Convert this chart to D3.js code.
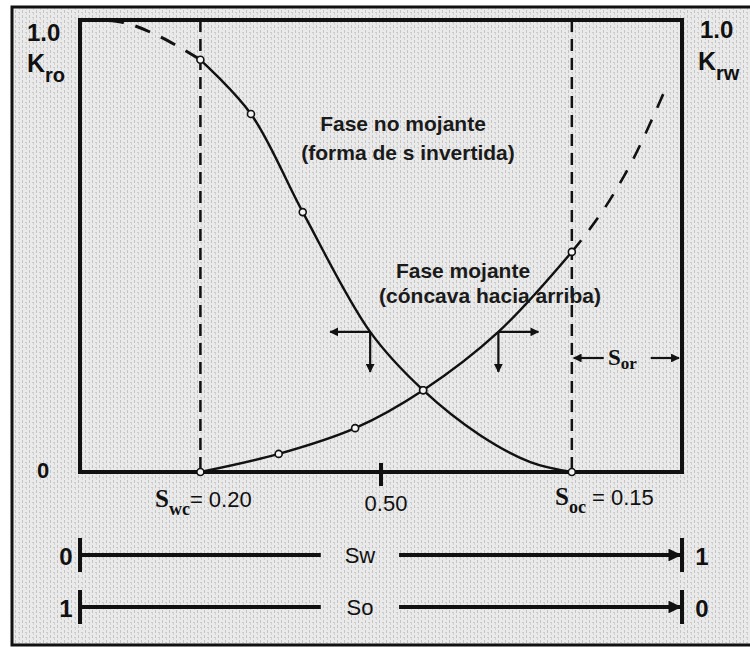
<!DOCTYPE html>
<html>
<head>
<meta charset="utf-8">
<script src="https://cdn.jsdelivr.net/npm/d3@7"></script>
<style>
  body { margin: 0; background: #fff; }
  svg { display: block; }
</style>
</head>
<body>
<div id="board"></div>
<script>
// Kro (non-wetting) and Krw (wetting) curves: [Sw, Kr]
const kroDashed = [[0, 1], [0.07, 0.995], [0.13, 0.965], [0.2, 0.912]];
const kroSolid = [[0.2, 0.912], [0.284, 0.792], [0.37, 0.575], [0.482, 0.31],
                  [0.57, 0.181], [0.664, 0.082], [0.748, 0.022], [0.817, 0]];
const krwSolid = [[0.2, 0], [0.33, 0.04], [0.457, 0.097], [0.57, 0.181],
                  [0.695, 0.31], [0.817, 0.487]];
const krwDashed = [[0.817, 0.487], [0.842, 0.529], [0.875, 0.591], [0.92, 0.695], [0.975, 0.855]];
const kroMarks = [[0.2, 0.912], [0.284, 0.792], [0.37, 0.575], [0.57, 0.181], [0.817, 0]];
const krwMarks = [[0.2, 0], [0.33, 0.04], [0.457, 0.097], [0.57, 0.181], [0.817, 0.487]];
const saturationLines = [0.2, 0.817];   // Swc and 1 - Soc
const midTick = [0.5];
const arrowPoints = [[0.482, 0.31, -1], [0.695, 0.31, 1]];  // Sw, Kr, direction

const width = 750, height = 647;
const x = d3.scaleLinear().domain([0, 1]).range([80, 682]);
const y = d3.scaleLinear().domain([0, 1]).range([472, 20]);

const svg = d3.create("svg").attr("width", width).attr("height", height);

// scanned paper look
const defs = svg.append("defs");
const pat = defs.append("pattern").attr("id", "paper")
  .attr("width", 7).attr("height", 5).attr("patternUnits", "userSpaceOnUse");
pat.append("rect").attr("width", 7).attr("height", 5).attr("fill", "#eaeaea");
pat.append("rect").attr("x", 1).attr("y", 0).attr("width", 1).attr("height", 3).attr("fill", "#c4c4c4");
pat.append("rect").attr("x", 4).attr("y", 2).attr("width", 2).attr("height", 1).attr("fill", "#cbcbcb");
pat.append("rect").attr("x", 5).attr("y", 3).attr("width", 1).attr("height", 2).attr("fill", "#d2d2d2");

["ar", "ar-small"].forEach((id, i) => {
  defs.append("marker").attr("id", id)
    .attr("viewBox", "0 0 10 10").attr("refX", 9).attr("refY", 5)
    .attr("markerWidth", i ? 4 : 3.2).attr("markerHeight", i ? 4 : 3.2)
    .attr("markerUnits", "strokeWidth").attr("orient", "auto")
    .append("path").attr("d", "M0,0L10,5L0,10z").attr("fill", "#111");
});

svg.append("rect").attr("x", 12).attr("y", 7).attr("width", 740).attr("height", 638)
  .attr("fill", "url(#paper)").attr("stroke", "#111").attr("stroke-width", 3);

// plot box
svg.append("rect").attr("x", x(0)).attr("y", y(1))
  .attr("width", x(1) - x(0)).attr("height", y(0) - y(1))
  .attr("fill", "none").attr("stroke", "#111").attr("stroke-width", 4);

// dashed verticals at Swc and 1-Soc
svg.selectAll(".vline").data(saturationLines).join("line")
  .attr("x1", d => x(d)).attr("x2", d => x(d))
  .attr("y1", y(1)).attr("y2", y(0))
  .attr("stroke", "#111").attr("stroke-width", 2.5).attr("stroke-dasharray", "12,7");

// 0.50 tick
svg.selectAll(".tick").data(midTick).join("line")
  .attr("x1", d => x(d)).attr("x2", d => x(d))
  .attr("y1", y(0) - 9).attr("y2", y(0) + 14)
  .attr("stroke", "#111").attr("stroke-width", 4);

const line = d3.line().x(d => x(d[0])).y(d => y(d[1])).curve(d3.curveCatmullRom);

svg.append("path").attr("d", line(kroDashed)).attr("fill", "none")
  .attr("stroke", "#111").attr("stroke-width", 3).attr("stroke-dasharray", "16,12");
svg.append("path").attr("d", line(krwDashed)).attr("fill", "none")
  .attr("stroke", "#111").attr("stroke-width", 2.6).attr("stroke-dasharray", "15,13");
svg.append("path").attr("d", line(kroSolid)).attr("fill", "none")
  .attr("stroke", "#111").attr("stroke-width", 2.4);
svg.append("path").attr("d", line(krwSolid)).attr("fill", "none")
  .attr("stroke", "#111").attr("stroke-width", 2.4);

svg.selectAll(".mk").data(kroMarks.concat(krwMarks)).join("circle")
  .attr("cx", d => x(d[0])).attr("cy", d => y(d[1])).attr("r", 3.5)
  .attr("fill", "#f4f4f4").attr("stroke", "#111").attr("stroke-width", 1.6);

// direction arrows on the curves
arrowPoints.forEach(([sw, kr, dir]) => {
  const cx = x(sw), cy = y(kr);
  svg.append("line").attr("x1", cx).attr("y1", cy).attr("x2", cx + dir * 40).attr("y2", cy)
    .attr("stroke", "#111").attr("stroke-width", 2.2).attr("marker-end", "url(#ar-small)");
  svg.append("line").attr("x1", cx).attr("y1", cy).attr("x2", cx).attr("y2", cy + 40)
    .attr("stroke", "#111").attr("stroke-width", 2.2).attr("marker-end", "url(#ar-small)");
});

// Sor bracket
const sorY = 358;
svg.append("line").attr("x1", x(0.87)).attr("y1", sorY).attr("x2", x(0.82)).attr("y2", sorY)
  .attr("stroke", "#111").attr("stroke-width", 2.2).attr("marker-end", "url(#ar-small)");
svg.append("line").attr("x1", x(0.948)).attr("y1", sorY).attr("x2", x(0.995)).attr("y2", sorY)
  .attr("stroke", "#111").attr("stroke-width", 2.2).attr("marker-end", "url(#ar-small)");
const sor = svg.append("text").attr("x", x(0.877)).attr("y", sorY + 7)
  .attr("font-family", "Liberation Serif").attr("font-weight", "bold").attr("font-size", 23).attr("fill", "#111");
sor.append("tspan").text("S");
sor.append("tspan").attr("dy", 4).attr("font-size", 17).text("or");

const sans = "Liberation Sans";
function txt(xp, yp, s, size, opts = {}) {
  return svg.append("text").attr("x", xp).attr("y", yp)
    .attr("font-family", opts.family || sans).attr("font-size", size)
    .attr("font-weight", opts.weight || "normal")
    .attr("text-anchor", opts.anchor || "start").attr("fill", opts.fill || "#111").text(s);
}

// axis labels
txt(27, 41, "1.0", 24, {weight: "bold"});
const kro = txt(27, 72, "K", 25, {weight: "bold"});
kro.append("tspan").attr("dy", 10).attr("font-size", 20).text("ro");
txt(700, 38, "1.0", 24, {weight: "bold"});
const krw = txt(698, 70, "K", 25, {weight: "bold"});
krw.append("tspan").attr("dy", 10).attr("font-size", 20).text("rw");
txt(37, 478, "0", 22, {weight: "bold"});

// curve annotations
const note = {anchor: "middle", weight: "bold", fill: "#1a1a1a"};
txt(403, 131, "Fase no mojante", 21, note);
txt(408, 160, "(forma de s invertida)", 21, note);
txt(463, 278, "Fase mojante", 21, note);
txt(490, 303, "(cóncava hacia arriba)", 21, note);

// saturation labels under the box
const swc = txt(155, 507, "S", 25, {family: "Liberation Serif", weight: "bold"});
swc.append("tspan").attr("dy", 8).attr("font-size", 18).text("wc");
swc.append("tspan").attr("dy", -8).attr("font-family", sans).attr("font-weight", "normal")
  .attr("font-size", 22).text("= 0.20");
svg.selectAll(".ticklab").data(midTick).join("text")
  .attr("x", d => x(d) + 5).attr("y", 511).attr("text-anchor", "middle")
  .attr("font-family", "Liberation Sans Narrow, " + sans).attr("font-size", 22)
  .attr("fill", "#111").text(d => d.toFixed(2));
const soc = txt(555, 505, "S", 25, {family: "Liberation Serif", weight: "bold"});
soc.append("tspan").attr("dy", 8).attr("font-size", 18).text("oc");
soc.append("tspan").attr("dy", -8).attr("font-family", sans).attr("font-weight", "normal")
  .attr("font-size", 22).text(" = 0.15");

// Sw and So scales
const rows = [{name: "Sw", y: 555, ends: ["0", "1"]}, {name: "So", y: 607, ends: ["1", "0"]}];
rows.forEach(r => {
  [0, 1].forEach(v => svg.append("line").attr("x1", x(v)).attr("x2", x(v))
    .attr("y1", r.y - 17).attr("y2", r.y + 17).attr("stroke", "#111").attr("stroke-width", 4));
  svg.append("line").attr("x1", x(0)).attr("x2", x(0.4)).attr("y1", r.y).attr("y2", r.y)
    .attr("stroke", "#111").attr("stroke-width", 4);
  svg.append("line").attr("x1", x(0.53)).attr("x2", x(1) - 2).attr("y1", r.y).attr("y2", r.y)
    .attr("stroke", "#111").attr("stroke-width", 4).attr("marker-end", "url(#ar)");
  txt(x(0.465), r.y + 8, r.name, 22, {anchor: "middle"});
  txt(x(0) - 14, r.y + 10, r.ends[0], 24, {anchor: "middle", weight: "bold"});
  txt(x(1) + 20, r.y + 10, r.ends[1], 24, {anchor: "middle", weight: "bold"});
});

document.getElementById("board").append(svg.node());
</script>
</body>
</html>
